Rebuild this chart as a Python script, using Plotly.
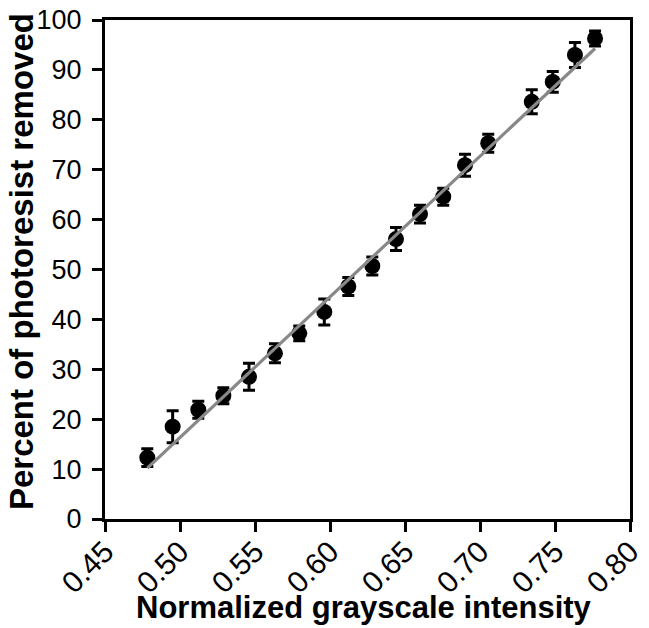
import plotly.graph_objects as go
import numpy as np

# Data
intensity = [0.4782, 0.4951, 0.5122, 0.5289, 0.5460, 0.5633, 0.5795, 0.5962, 0.6122, 0.6282,
             0.6440, 0.6600, 0.6755, 0.6900, 0.7055, 0.7345, 0.7485, 0.7633, 0.7767]
removed = [12.3, 18.5, 21.9, 24.7, 28.5, 33.2, 37.2, 41.5, 46.6, 50.7,
           56.1, 61.1, 64.6, 70.9, 75.3, 83.6, 87.6, 93.0, 96.3]
err = [1.8, 3.2, 1.7, 1.6, 2.7, 1.9, 1.5, 2.6, 1.8, 1.8,
       2.3, 1.8, 1.7, 2.2, 1.8, 2.4, 2.1, 2.5, 1.5]

# Linear fit line (slope, intercept)
fit_slope = 281.7
fit_intercept = -124.5

x_ticks = [0.45, 0.50, 0.55, 0.60, 0.65, 0.70, 0.75, 0.80]
y_ticks = [0, 10, 20, 30, 40, 50, 60, 70, 80, 90, 100]

x_title = "Normalized grayscale intensity"
y_title = "Percent of photoresist removed"

FONT = "Arial, 'Liberation Sans', sans-serif"

fit_x = np.array([min(intensity), max(intensity)])
fit_y = fit_slope * fit_x + fit_intercept

fig = go.Figure()
fig.add_trace(go.Scatter(
    x=intensity, y=removed, mode="markers",
    marker=dict(color="black", size=16, symbol="circle"),
    error_y=dict(type="data", array=err, visible=True, color="black",
                 thickness=3, width=6),
    showlegend=False,
))
fig.add_trace(go.Scatter(
    x=fit_x, y=fit_y, mode="lines",
    line=dict(color="#888888", width=3.2),
    showlegend=False,
))

fig.update_layout(
    template="none",
    width=649, height=628,
    margin=dict(l=105, r=19, t=20, b=109),
    paper_bgcolor="white", plot_bgcolor="white",
    font=dict(family=FONT, color="black"),
)
fig.update_xaxes(
    range=[0.45, 0.80], tickvals=x_ticks,
    ticktext=[f"{v:.2f}" for v in x_ticks],
    tickangle=-45, tickfont=dict(size=30, family=FONT, color="black"),
    ticks="outside", ticklen=0, tickwidth=3, tickcolor="black",
    minor=dict(tickvals=x_ticks, ticks="outside", ticklen=10, tickwidth=3,
               tickcolor="black", showgrid=False),
    showline=True, linewidth=3, linecolor="black", mirror=True,
    showgrid=False, zeroline=False, automargin=False,
)
fig.update_yaxes(
    range=[0, 100], tickvals=y_ticks,
    tickfont=dict(size=27, family=FONT, color="black"),
    ticklabelstandoff=5,
    ticks="outside", ticklen=10, tickwidth=3, tickcolor="black",
    showline=True, linewidth=3, linecolor="black", mirror=True,
    showgrid=False, zeroline=False, automargin=False,
)

fig.add_annotation(
    text=f"<b>{x_title}</b>", xref="paper", yref="paper",
    x=0.4933, y=-0.1764, xanchor="center", yanchor="middle",
    showarrow=False, font=dict(size=31, family=FONT, color="black"),
)
fig.add_annotation(
    text=f"<b>{y_title}</b>", xref="paper", yref="paper",
    x=-0.159, y=0.516, xanchor="center", yanchor="middle", textangle=-90,
    showarrow=False, font=dict(size=33, family=FONT, color="black"),
)

fig.write_html("out.html")
